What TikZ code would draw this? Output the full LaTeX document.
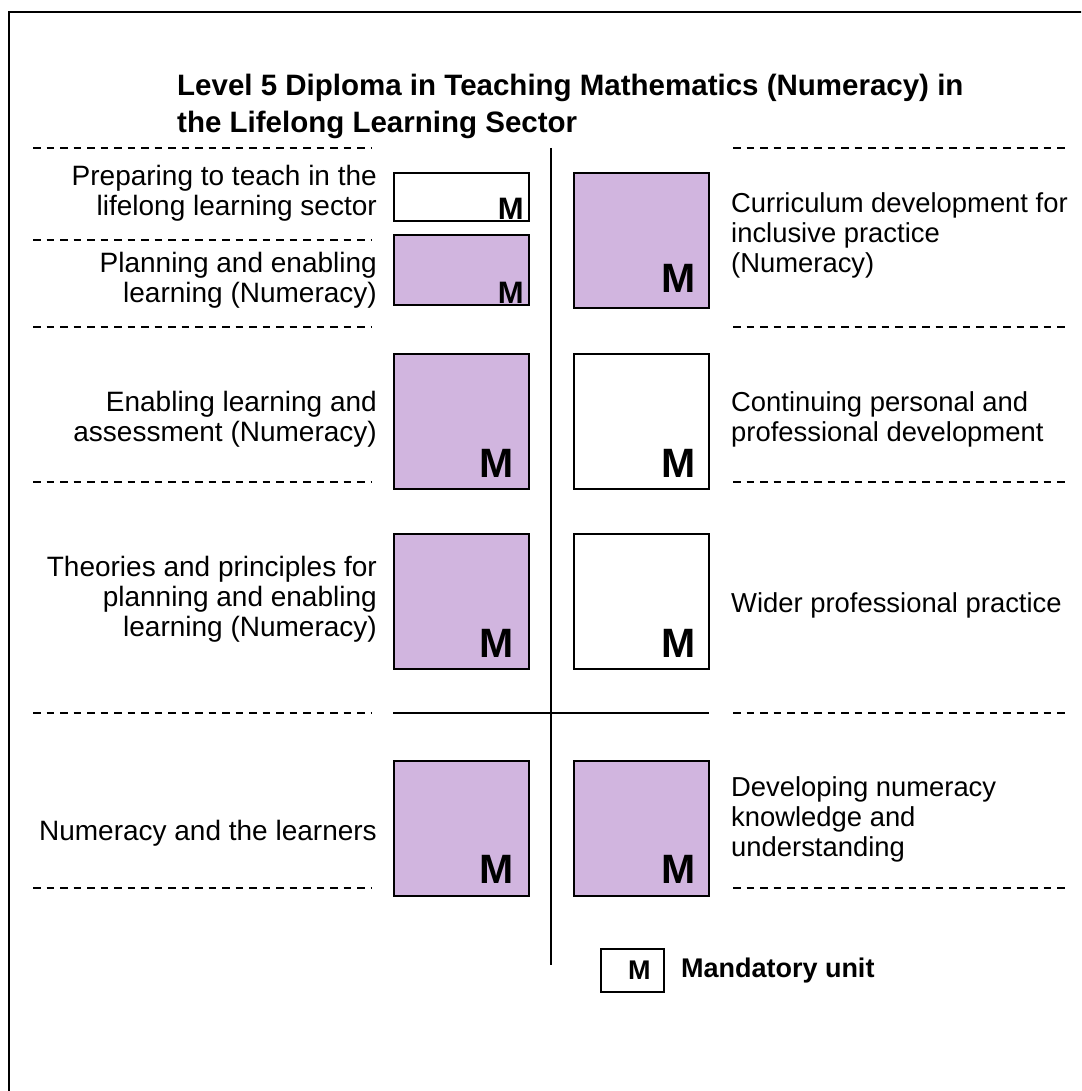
\documentclass[tikz,border=0pt]{standalone}
\usepackage{fontspec}
\setmainfont{Liberation Sans}
\definecolor{unitfill}{RGB}{209,181,223}
\begin{document}
\begin{tikzpicture}[x=1pt,y=-1pt,
  unitbox/.style={draw=black, line width=1.8pt, minimum width=135pt, inner sep=0pt, anchor=north west},
  mlab/.style={font=\fontsize{41}{41}\selectfont\bfseries, inner sep=0pt, anchor=south east},
  mlabsmall/.style={font=\fontsize{31}{31}\selectfont\bfseries, inner sep=0pt, anchor=south east},
  ltext/.style={font=\fontsize{28}{30}\selectfont, align=right, inner sep=0pt, anchor=east},
  rtext/.style={font=\fontsize{27.4}{30}\selectfont, align=left, inner sep=0pt, anchor=west},
  sepline/.style={line width=1.2pt, dash pattern=on 7.5pt off 6pt},
  solidline/.style={line width=1.8pt}]
\useasboundingbox (0,0) rectangle (1081,1091);
\clip (0,0) rectangle (1081,1091);
% frame
\draw[line width=1.8pt] (9,1100) -- (9,12) -- (1090,12);
% title
\node[font=\fontsize{29.5}{37}\selectfont\bfseries, align=left, inner sep=0pt, anchor=base west] (title) at (177,133)
  {Level 5 Diploma in Teaching Mathematics (Numeracy) in\\the Lifelong Learning Sector};
% separators
\foreach \yy in {148,240,327,482,713,888}{\draw[sepline] (33,\yy) -- (372,\yy);}
\foreach \yy in {148,327,482,713,888}{\draw[sepline] (733,\yy) -- (1070,\yy);}
% axes
\coordinate (vt) at (551,148);
\coordinate (vb) at (551,965);
\coordinate (hl) at (393,713);
\coordinate (hr) at (709,713);
\draw[solidline] (vt) -- (vb);
\draw[solidline] (hl) -- (hr);
% left boxes
\node[unitbox, minimum height=48pt] (b1) at (393,172) {};
\node[unitbox, fill=unitfill, minimum height=70pt] (b2) at (393,234) {};
\node[unitbox, fill=unitfill, minimum height=135pt] (b3) at (393,353) {};
\node[unitbox, fill=unitfill, minimum height=135pt] (b4) at (393,533) {};
\node[unitbox, fill=unitfill, minimum height=135pt] (b5) at (393,760) {};
% right boxes
\node[unitbox, fill=unitfill, minimum height=135pt] (r1) at (573,172) {};
\node[unitbox, minimum height=135pt] (r2) at (573,353) {};
\node[unitbox, minimum height=135pt] (r3) at (573,533) {};
\node[unitbox, fill=unitfill, minimum height=135pt] (r4) at (573,760) {};
% M labels
\node[mlabsmall] (m1) at ([xshift=-6pt,yshift=2pt]b1.south east) {M};
\node[mlabsmall] (m2) at ([xshift=-6pt,yshift=2pt]b2.south east) {M};
\node[mlab] (m3) at ([xshift=-16pt,yshift=12pt]b3.south east) {M};
\node[mlab] (m4) at ([xshift=-16pt,yshift=12pt]b4.south east) {M};
\node[mlab] (m5) at ([xshift=-16pt,yshift=13pt]b5.south east) {M};
\node[mlab] (mr1) at ([xshift=-14pt,yshift=16pt]r1.south east) {M};
\node[mlab] (mr2) at ([xshift=-14pt,yshift=12pt]r2.south east) {M};
\node[mlab] (mr3) at ([xshift=-14pt,yshift=12pt]r3.south east) {M};
\node[mlab] (mr4) at ([xshift=-14pt,yshift=13pt]r4.south east) {M};
% left texts
\node[ltext] (t1) at (377,193) {Preparing to teach in the\\lifelong learning sector};
\node[ltext] (t2) at (377,280) {Planning and enabling\\learning (Numeracy)};
\node[ltext] (t3) at (377,419) {Enabling learning and\\assessment (Numeracy)};
\node[ltext] (t4) at (377,599) {Theories and principles for\\planning and enabling\\learning (Numeracy)};
\node[ltext] (t5) at (377,833) {Numeracy and the learners};
% right texts
\node[rtext] (s1) at (731,235) {Curriculum development for\\inclusive practice\\(Numeracy)};
\node[rtext] (s2) at (731,419) {Continuing personal and\\professional development};
\node[rtext] (s3) at (731,605) {Wider professional practice};
\node[rtext] (s4) at (731,819) {Developing numeracy\\knowledge and\\understanding};
% legend
\node[draw=black, line width=1.8pt, minimum width=63pt, minimum height=43pt, inner sep=0pt, anchor=north west] (leg) at (600,948) {};
\node[font=\fontsize{27}{27}\selectfont\bfseries, inner sep=0pt] (legm) at ([xshift=7pt]leg.center) {M};
\node[font=\fontsize{27}{27}\selectfont\bfseries, inner sep=0pt, anchor=west] (legt) at ([xshift=16pt]leg.east) {Mandatory unit};
\end{tikzpicture}
\end{document}
